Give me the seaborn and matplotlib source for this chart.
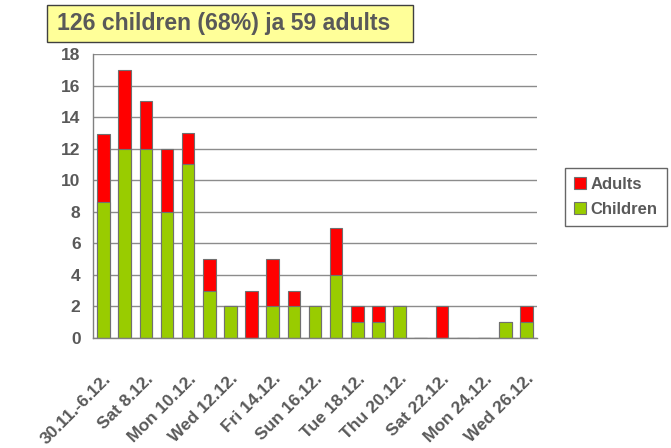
import matplotlib
matplotlib.use("Agg")
import matplotlib.pyplot as plt
import matplotlib.patches as mpatches
import seaborn as sns
import pandas as pd

days = ["30.11.-6.12.", "Fri 7.12.", "Sat 8.12.", "Sun 9.12.", "Mon 10.12.",
        "Tue 11.12.", "Wed 12.12.", "Thu 13.12.", "Fri 14.12.", "Sat 15.12.",
        "Sun 16.12.", "Mon 17.12.", "Tue 18.12.", "Wed 19.12.", "Thu 20.12.",
        "Fri 21.12.", "Sat 22.12.", "Sun 23.12.", "Mon 24.12.", "Tue 25.12.",
        "Wed 26.12."]
children = [8.6, 12, 12, 8, 11, 3, 2, 0, 2, 2, 2, 4, 1, 1, 2, 0, 0, 0, 0, 1, 1]
adults = [4.3, 5, 3, 4, 2, 2, 0, 3, 3, 1, 0, 3, 1, 1, 0, 0, 2, 0, 0, 0, 1]

df = pd.DataFrame({"day": days, "children": children, "adults": adults})
df["total"] = df["children"] + df["adults"]

sns.set_style("white")
plt.rcParams["font.family"] = ["Liberation Sans", "DejaVu Sans"]
grey = "#595959"

fig = plt.figure(figsize=(6.71, 4.48), dpi=100)
ax = fig.add_axes([0.1386, 0.2455, 0.8003 - 0.1386, 0.8795 - 0.2455])

sns.barplot(data=df, x="day", y="total", color="#ff0000", width=0.6,
            edgecolor="#707070", linewidth=0.8, saturation=1, ax=ax, label="Adults")
sns.barplot(data=df, x="day", y="children", color="#99cc00", width=0.6,
            edgecolor="#707070", linewidth=0.8, saturation=1, ax=ax, label="Children")
handles, labels = ax.get_legend_handles_labels()
if ax.get_legend() is not None:
    ax.get_legend().remove()

ax.set_xlim(-0.5, len(days) - 0.5)
ax.set_ylim(0, 18)
ax.set_yticks(range(0, 19, 2))
ax.yaxis.grid(True, color="#8c8c8c", linewidth=1)
ax.set_axisbelow(True)
ax.set_xlabel("")
ax.set_ylabel("")

for s in ["top", "right"]:
    ax.spines[s].set_visible(False)
for s in ["left", "bottom"]:
    ax.spines[s].set_color("#808080")
    ax.spines[s].set_linewidth(1)

# category labels every other day, tick marks between categories
ax.set_xticks(range(0, len(days), 2))
ax.set_xticklabels(days[::2], rotation=45, ha="right", rotation_mode="anchor",
                   fontsize=12.5, fontweight="bold", color=grey)
ax.tick_params(axis="x", length=0, pad=24)
ax.set_xticks([i - 0.5 for i in range(len(days) + 1)], minor=True)
ax.tick_params(axis="x", which="minor", length=5, color="#808080", direction="out")
ax.tick_params(axis="y", length=4, color="#808080", labelsize=12.5,
               labelcolor=grey, pad=5)
for lbl in ax.get_yticklabels():
    lbl.set_fontweight("bold")

leg = fig.legend(handles, labels, loc="upper left", bbox_to_anchor=(0.842, 0.625),
                 frameon=True, fancybox=False, edgecolor="#404040",
                 prop={"weight": "bold", "size": 12}, handlelength=0.7,
                 handleheight=0.7, handletextpad=0.3, borderpad=0.55,
                 labelspacing=0.6, borderaxespad=0)
leg.get_frame().set_linewidth(1)
for t in leg.get_texts():
    t.set_color(grey)

# title box
fig.patches.append(mpatches.Rectangle((47 / 671, 1 - 42 / 448), 366 / 671, 37 / 448,
                                      transform=fig.transFigure, facecolor="#ffff99",
                                      edgecolor="#404040", linewidth=1, zorder=0))
fig.text(57 / 671, 1 - 23.5 / 448, "126 children (68%) ja 59 adults", fontsize=16.6,
         fontweight="bold", color=grey, va="center", ha="left", zorder=2)

fig.savefig("out.png", dpi=100)
